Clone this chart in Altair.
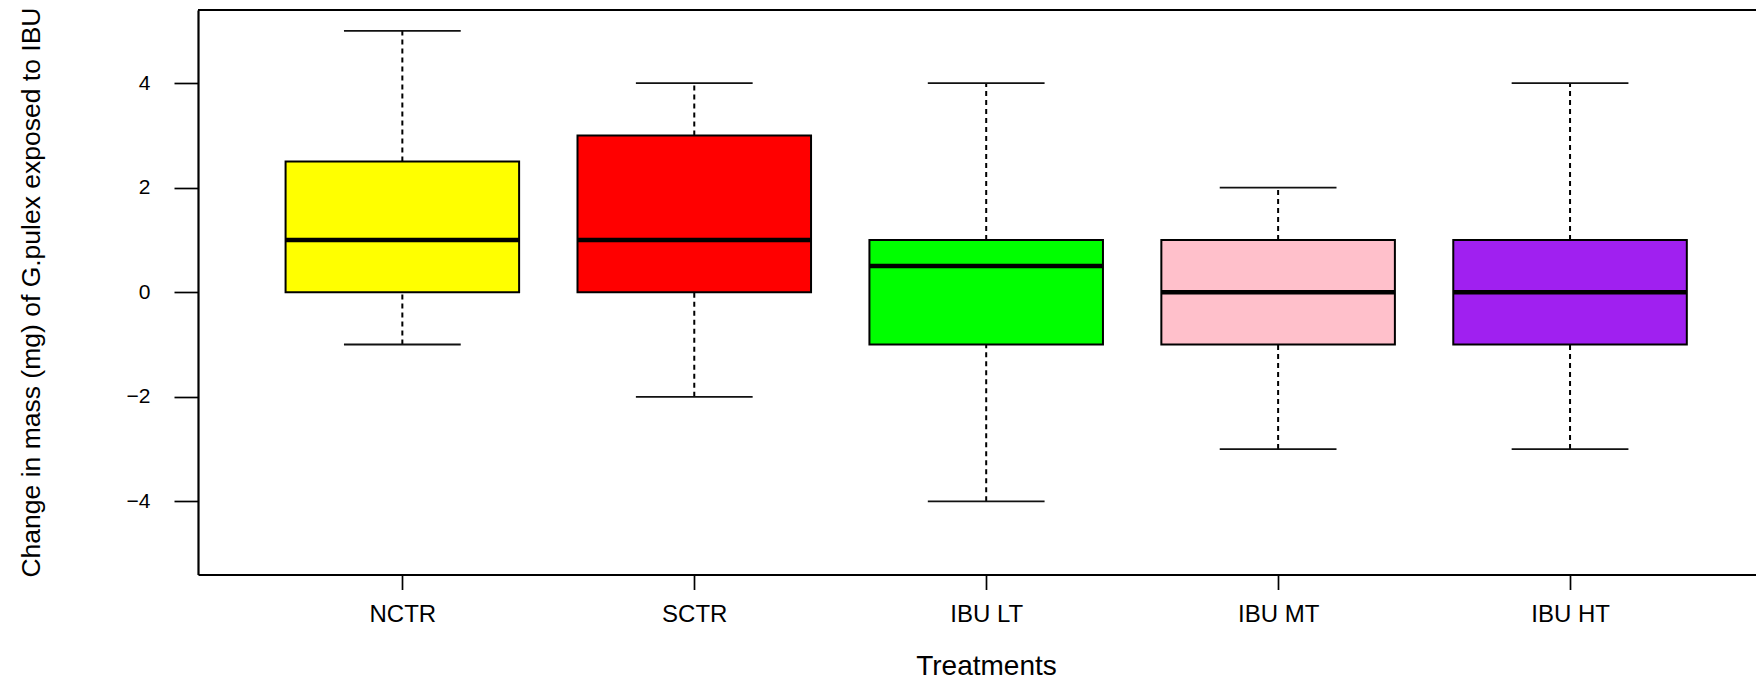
import altair as alt
import pandas as pd

# Box-plot summary per treatment: change in mass (mg) of G. pulex
treatments = ["NCTR", "SCTR", "IBU LT", "IBU MT", "IBU HT"]
positions = [1, 2, 3, 4, 5]
whisker_low = [-1, -2, -4, -3, -3]
quartile_1 = [0, 0, -1, -1, -1]
medians = [1, 1, 0.5, 0, 0]
quartile_3 = [2.5, 3, 1, 1, 1]
whisker_high = [5, 4, 4, 2, 4]
fills = ["#FFFF00", "#FF0000", "#00FF00", "#FFC0CB", "#A020F0"]

df = pd.DataFrame({
    "treatment": treatments,
    "pos": positions,
    "low": whisker_low,
    "q1": quartile_1,
    "median": medians,
    "q3": quartile_3,
    "high": whisker_high,
    "fill": fills,
})

FONT = "Liberation Sans"
Y_DOMAIN = [-5.4, 5.4]
X_DOMAIN = [0.3, 5.637]

label_expr = "[" + ",".join(f"'{t}'" for t in treatments) + "][datum.value - 1]"

x_axis = alt.Axis(
    values=positions, labelExpr=label_expr, grid=False,
    tickSize=15, tickWidth=1.7, tickColor="black",
    domainColor="black", domainWidth=1.8,
    labelFont=FONT, labelFontSize=24, labelColor="black", labelPadding=13,
    title="Treatments", titleFont=FONT, titleFontSize=28, titleFontWeight="normal",
    titleColor="black", titleBaseline="alphabetic", titleX=788, titleY=100,
)
y_axis = alt.Axis(
    values=[-4, -2, 0, 2, 4], grid=False,
    tickSize=24, tickWidth=1.7, tickColor="black",
    domainColor="black", domainWidth=2.2,
    labelFont=FONT, labelFontSize=21, labelColor="black", labelPadding=24,
    title="Change in mass (mg) of G.pulex exposed to IBU",
    titleFont=FONT, titleFontSize=26.5, titleFontWeight="normal", titleColor="black",
    titleAngle=-90, titleBaseline="alphabetic", titleX=-159, titleY=282,
)

x_scale = alt.Scale(domain=X_DOMAIN, nice=False, zero=False)
y_scale = alt.Scale(domain=Y_DOMAIN, nice=False, zero=False)

base = alt.Chart(df).transform_calculate(
    box_l="datum.pos - 0.4",
    box_r="datum.pos + 0.4",
    cap_l="datum.pos - 0.2",
    cap_r="datum.pos + 0.2",
)

whisk_lo = base.mark_rule(color="black", strokeWidth=2, strokeDash=[5, 4]).encode(
    x=alt.X("pos:Q", scale=x_scale, axis=x_axis),
    y=alt.Y("low:Q", scale=y_scale, axis=y_axis),
    y2="q1:Q",
)
whisk_hi = base.mark_rule(color="black", strokeWidth=2, strokeDash=[5, 4]).encode(
    x="pos:Q", y="q3:Q", y2="high:Q",
)
cap_lo = base.mark_rule(color="#111111", strokeWidth=1.8).encode(
    x="cap_l:Q", x2="cap_r:Q", y="low:Q",
)
cap_hi = base.mark_rule(color="#111111", strokeWidth=1.8).encode(
    x="cap_l:Q", x2="cap_r:Q", y="high:Q",
)
boxes = base.mark_rect(stroke="black", strokeWidth=2).encode(
    x="box_l:Q", x2="box_r:Q", y="q1:Q", y2="q3:Q",
    fill=alt.Fill("fill:N", scale=None),
)
median_line = base.mark_rule(color="black", strokeWidth=4.5).encode(
    x="box_l:Q", x2="box_r:Q", y="median:Q",
)
top_frame = alt.Chart(df).mark_rule(color="black", strokeWidth=1.8).encode(
    y=alt.datum(Y_DOMAIN[1]),
)

chart = alt.layer(
    whisk_lo, whisk_hi, cap_lo, cap_hi, boxes, median_line, top_frame
).properties(
    width=1558,
    height=564.5,
    autosize=alt.AutoSizeParams(type="none"),
    padding={"left": 198, "top": 10, "right": 0, "bottom": 107.5},
    background="white",
).configure_view(stroke=None)

chart.save("out.html", embed_options={"renderer": "svg", "actions": False})
